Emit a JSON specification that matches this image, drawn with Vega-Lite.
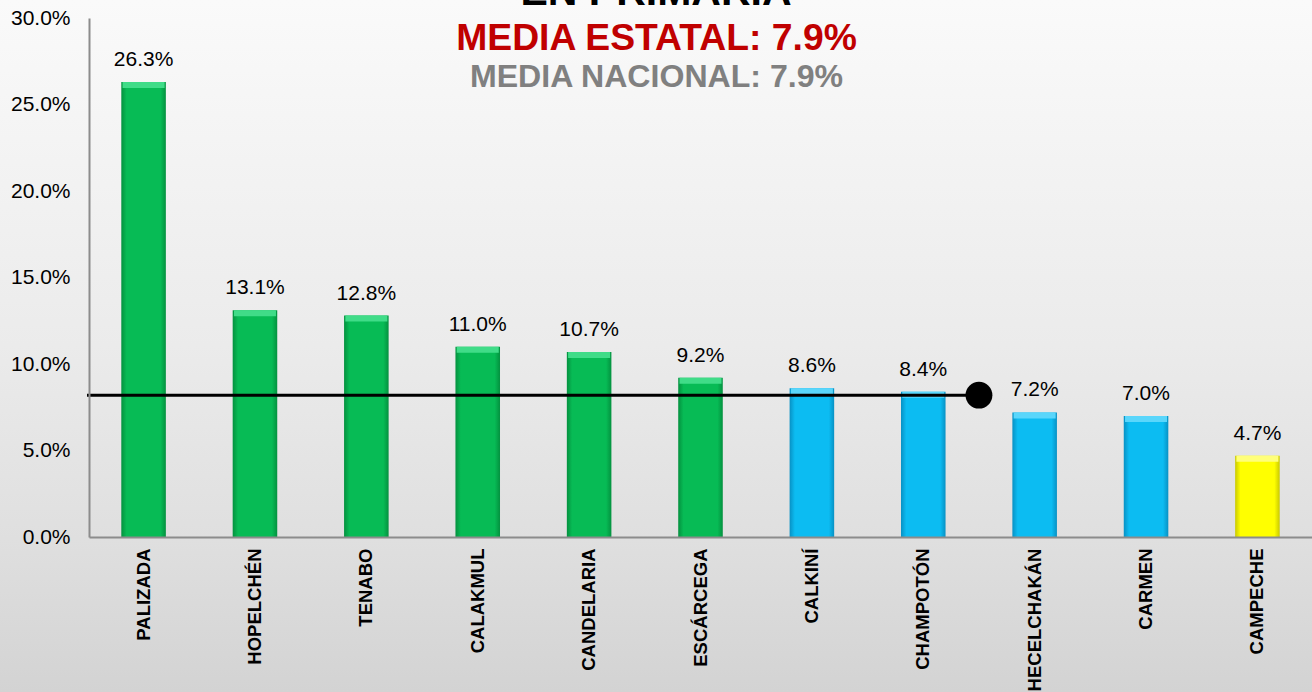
{
  "$schema": "https://vega.github.io/schema/vega-lite/v6.json",
  "width": 1223,
  "height": 519,
  "autosize": {"type": "none"},
  "padding": {"left": 89, "top": 18, "right": 0, "bottom": 155},
  "background": "#e6e6e6",
  "config": {"view": {"stroke": null}, "font": "Liberation Sans"},
  "datasets": {
    "bars": [
      {"municipio": "PALIZADA", "valor": 0.263, "grupo": "alto"},
      {"municipio": "HOPELCHÉN", "valor": 0.131, "grupo": "alto"},
      {"municipio": "TENABO", "valor": 0.128, "grupo": "alto"},
      {"municipio": "CALAKMUL", "valor": 0.110, "grupo": "alto"},
      {"municipio": "CANDELARIA", "valor": 0.107, "grupo": "alto"},
      {"municipio": "ESCÁRCEGA", "valor": 0.092, "grupo": "alto"},
      {"municipio": "CALKINÍ", "valor": 0.086, "grupo": "medio"},
      {"municipio": "CHAMPOTÓN", "valor": 0.084, "grupo": "medio"},
      {"municipio": "HECELCHAKÁN", "valor": 0.072, "grupo": "medio"},
      {"municipio": "CARMEN", "valor": 0.070, "grupo": "medio"},
      {"municipio": "CAMPECHE", "valor": 0.047, "grupo": "bajo"}
    ],
    "media": [{"municipio": "HECELCHAKÁN", "valor": 0.082}]
  },
  "resolve": {"scale": {"x": "independent", "y": "independent"}, "axis": {"x": "independent", "y": "independent"}},
  "layer": [
    {
      "data": {"values": [{}]},
      "mark": {
        "type": "rect",
        "color": {
          "gradient": "linear", "x1": 0, "y1": 0, "x2": 0, "y2": 1,
          "stops": [
            {"offset": 0, "color": "#fafafa"},
            {"offset": 0.5, "color": "#ebebeb"},
            {"offset": 0.78, "color": "#dfdfdf"},
            {"offset": 1, "color": "#d3d3d3"}
          ]
        }
      },
      "encoding": {
        "x": {"datum": -0.08, "type": "quantitative", "scale": {"domain": [0, 1]}, "axis": null},
        "x2": {"datum": 1.01},
        "y": {"datum": 1.0347, "type": "quantitative", "scale": {"domain": [0, 1]}, "axis": null},
        "y2": {"datum": -0.2987}
      }
    },
    {
      "layer": [
        {
          "data": {"name": "bars"},
          "mark": {"type": "text", "fontSize": 21, "color": "#000000", "dy": -16, "baseline": "alphabetic"},
          "encoding": {
            "x": {
              "field": "municipio", "type": "nominal", "sort": null,
              "scale": {"paddingInner": 0.6, "paddingOuter": 0.29},
              "axis": {
                "title": null, "labelAngle": -90, "labelAlign": "right", "labelBaseline": "middle",
                "labelFontWeight": "bold", "labelFontSize": 18.5, "labelColor": "#000000",
                "labelPadding": 11, "ticks": false, "domainColor": "#8c8c8c", "domainWidth": 2,
                "labelOverlap": false, "labelLimit": 400, "zindex": 1
              }
            },
            "y": {
              "field": "valor", "type": "quantitative",
              "scale": {"domain": [0, 0.3], "nice": false, "zero": true},
              "axis": {
                "title": null, "values": [0, 0.05, 0.1, 0.15, 0.2, 0.25, 0.3], "format": ".1%",
                "grid": false, "ticks": false, "labelPadding": 19, "labelFontSize": 21,
                "labelColor": "#000000", "domainColor": "#8c8c8c", "domainWidth": 2, "zindex": 1
              }
            },
            "text": {"field": "valor", "type": "quantitative", "format": ".1%"}
          }
        },
        {
          "data": {"name": "bars"},
          "transform": [{"filter": "datum.grupo === 'alto'"}],
          "mark": {
            "type": "bar",
            "color": {
              "gradient": "linear", "x1": 0, "y1": 0, "x2": 1, "y2": 0,
              "stops": [
                {"offset": 0, "color": "#04913f"},
                {"offset": 0.12, "color": "#07bb55"},
                {"offset": 0.88, "color": "#07bb55"},
                {"offset": 1, "color": "#04913f"}
              ]
            }
          },
          "encoding": {
            "x": {"field": "municipio", "type": "nominal", "sort": null},
            "y": {"field": "valor", "type": "quantitative"}
          }
        },
        {
          "data": {"name": "bars"},
          "transform": [{"filter": "datum.grupo === 'medio'"}],
          "mark": {
            "type": "bar",
            "color": {
              "gradient": "linear", "x1": 0, "y1": 0, "x2": 1, "y2": 0,
              "stops": [
                {"offset": 0, "color": "#0891c4"},
                {"offset": 0.12, "color": "#0cbcf2"},
                {"offset": 0.88, "color": "#0cbcf2"},
                {"offset": 1, "color": "#0891c4"}
              ]
            }
          },
          "encoding": {
            "x": {"field": "municipio", "type": "nominal", "sort": null},
            "y": {"field": "valor", "type": "quantitative"}
          }
        },
        {
          "data": {"name": "bars"},
          "transform": [{"filter": "datum.grupo === 'bajo'"}],
          "mark": {
            "type": "bar",
            "color": {
              "gradient": "linear", "x1": 0, "y1": 0, "x2": 1, "y2": 0,
              "stops": [
                {"offset": 0, "color": "#c9c900"},
                {"offset": 0.12, "color": "#ffff00"},
                {"offset": 0.88, "color": "#ffff00"},
                {"offset": 1, "color": "#c9c900"}
              ]
            }
          },
          "encoding": {
            "x": {"field": "municipio", "type": "nominal", "sort": null},
            "y": {"field": "valor", "type": "quantitative"}
          }
        },
        {
          "data": {"name": "bars"},
          "mark": {"type": "tick", "thickness": 6, "size": 42, "yOffset": 3, "opacity": 1},
          "encoding": {
            "x": {"field": "municipio", "type": "nominal", "sort": null},
            "y": {"field": "valor", "type": "quantitative"},
            "color": {
              "field": "grupo", "type": "nominal",
              "scale": {"domain": ["alto", "medio", "bajo"], "range": ["#40dc88", "#5ad6fb", "#ffff7a"]},
              "legend": null
            }
          }
        },
        {
          "data": {"name": "media"},
          "mark": {"type": "rule", "color": "#000000", "strokeWidth": 3},
          "encoding": {
            "x": {"field": "municipio", "type": "nominal", "sort": null, "bandPosition": -0.75},
            "x2": {"value": -2},
            "y": {"field": "valor", "type": "quantitative"}
          }
        },
        {
          "data": {"name": "media"},
          "mark": {"type": "circle", "color": "#000000", "opacity": 1, "size": 720},
          "encoding": {
            "x": {"field": "municipio", "type": "nominal", "sort": null, "bandPosition": -0.75},
            "y": {"field": "valor", "type": "quantitative"}
          }
        },
        {
          "data": {"values": [{}]},
          "mark": {"type": "text", "text": "EN PRIMARIA", "fontSize": 41, "fontWeight": "bold", "color": "#000000", "baseline": "alphabetic", "align": "center", "dx": -44.5},
          "encoding": {"y": {"datum": 0.3075, "type": "quantitative"}}
        },
        {
          "data": {"values": [{}]},
          "mark": {"type": "text", "text": "MEDIA ESTATAL: 7.9%", "fontSize": 37.3, "fontWeight": "bold", "color": "#c00000", "baseline": "alphabetic", "align": "center", "dx": -44},
          "encoding": {"y": {"datum": 0.2815, "type": "quantitative"}}
        },
        {
          "data": {"values": [{}]},
          "mark": {"type": "text", "text": "MEDIA NACIONAL: 7.9%", "fontSize": 32.1, "fontWeight": "bold", "color": "#808080", "baseline": "alphabetic", "align": "center", "dx": -44},
          "encoding": {"y": {"datum": 0.2601, "type": "quantitative"}}
        }
      ]
    }
  ]
}
